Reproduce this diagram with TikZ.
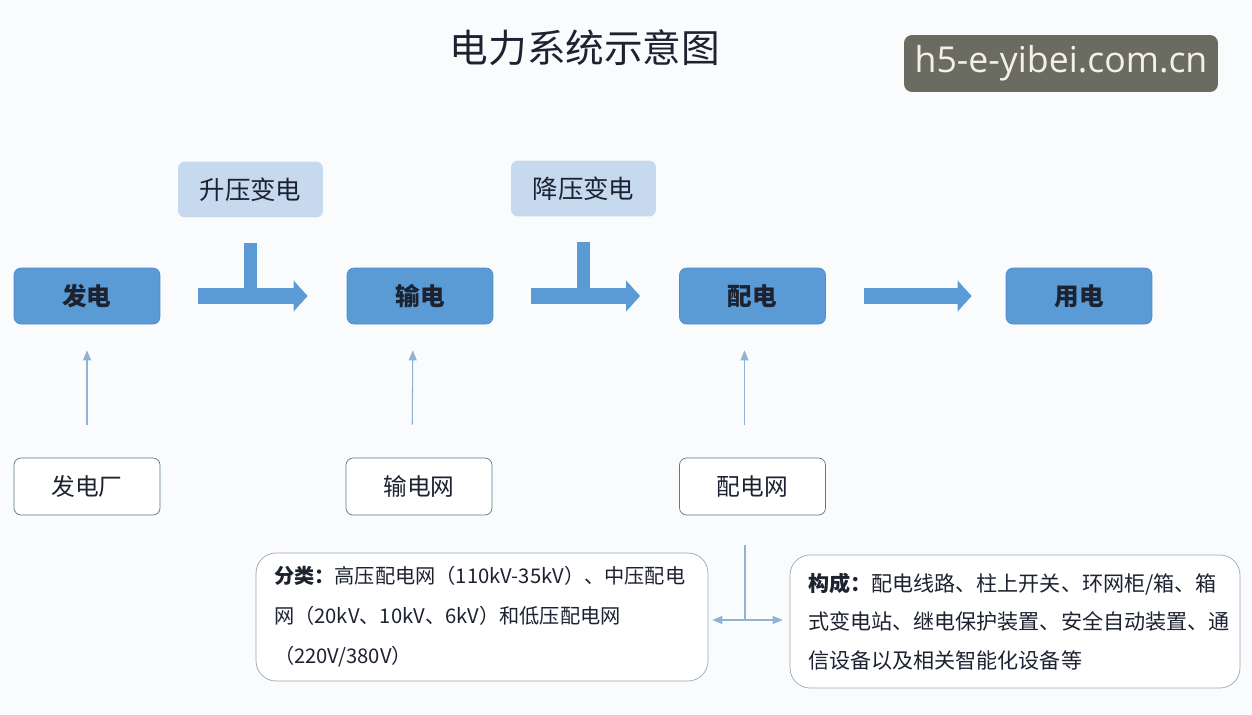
\documentclass[tikz,border=0pt]{standalone}
\usepackage{fontspec}
\newfontfamily\cjk{Noto Sans CJK SC}
\newfontfamily\wmfont{Open Sans}
\usetikzlibrary{arrows.meta}
\definecolor{bgcol}{HTML}{FAFBFD}
\definecolor{mainblue}{HTML}{5B9BD5}
\definecolor{mainedge}{HTML}{4F8CC9}
\definecolor{lightblue}{HTML}{C6D9EF}
\definecolor{thinblue}{HTML}{8FB2D6}
\definecolor{outedge}{HTML}{587A8A}
\definecolor{noteedge}{HTML}{9AA8B4}
\definecolor{wmgray}{HTML}{6A6B61}
\definecolor{wmtext}{HTML}{F6EEEA}
\definecolor{inkcol}{HTML}{1C2230}
\begin{document}
\begin{tikzpicture}[x=0.02cm,y=-0.02cm,
	font=\cjk, text=inkcol,
	mainbox/.style={draw=mainedge,fill=mainblue,rounded corners=0.14cm,minimum width=2.92cm,minimum height=1.12cm,font=\cjk\bfseries\fontsize{14}{16}\selectfont},
	stepup/.style={fill=lightblue,rounded corners=0.14cm,minimum width=2.9cm,minimum height=1.12cm,font=\cjk\fontsize{14.5}{16}\selectfont},
	sourcebox/.style={draw=outedge,fill=white,rounded corners=0.14cm,minimum width=2.92cm,minimum height=1.14cm,font=\cjk\fontsize{13.5}{16}\selectfont},
	notebox/.style={draw=noteedge,fill=white,rounded corners=0.4cm,inner xsep=0.36cm,align=left},
	bigarrow/.style={draw=mainblue,line width=0.32cm,-{Triangle[length=0.28cm,width=0.6cm]},shorten <=0.76cm,shorten >=0.78cm},
	stem/.style={draw=mainblue,line width=0.26cm},
	thinarrow/.style={draw=thinblue,line width=0.6pt,-{Triangle[length=0.2cm,width=0.16cm]},shorten <=0.66cm,shorten >=0.52cm}]

	\fill[bgcol] (0,0) rectangle (1252,714);
	\useasboundingbox (0,0) rectangle (1252,714);

	% title and mark
	\node (title) at (585,48) {\fontsize{22}{26}\selectfont 电力系统示意图};
	\node (mark)[fill=wmgray,rounded corners=0.16cm,minimum width=6.28cm,minimum height=1.14cm,text=wmtext,font=\wmfont\fontsize{20.3}{24}\selectfont] at (1061,63.5) {h5-e-yibei.com.cn};

	% main chain
	\node (fadian)[mainbox] at (87,296) {发电};
	\node (shudian)[mainbox] at (420,296) {输电};
	\node (peidian)[mainbox] at (752.5,296) {配电};
	\node (yongdian)[mainbox] at (1079,296) {用电};

	\node (shengya)[stepup] at (250.5,189.5) {升压变电};
	\node (jiangya)[stepup] at (583.5,188.5) {降压变电};

	\draw[stem] ([yshift=-0.5cm]shengya.south) -- (shengya.south |- fadian.center);
	\draw[stem] ([yshift=-0.5cm]jiangya.south) -- (jiangya.south |- shudian.center);
	\draw[bigarrow] (fadian) -- (shudian);
	\draw[bigarrow] (shudian) -- (peidian);
	\draw[bigarrow,shorten >=0.68cm] (peidian) -- (yongdian);

	% sources below
	\node (fadianchang)[sourcebox] at (87,486.5) {发电厂};
	\node (shudianwang)[sourcebox] at (419,486.5) {输电网};
	\node (peidianwang)[sourcebox] at (752.5,486.5) {配电网};

	\draw[thinarrow] (fadianchang) -- (fadian);
	\draw[thinarrow] ([xshift=-0.14cm]shudianwang.north) -- ([xshift=-0.14cm]shudian.south);
	\draw[thinarrow] ([xshift=-0.16cm]peidianwang.north) -- ([xshift=-0.16cm]peidian.south);

	% notes on the distribution grid
	\node (fenlei)[notebox,minimum width=9.04cm,minimum height=2.56cm,text width=8.32cm,font=\cjk\fontsize{11.5}{22.8}\selectfont] at (482,617)
		{\textbf{分类：}高压配电网（110kV-35kV）、中压配电\\网（20kV、10kV、6kV）和低压配电网\\（220V/380V）};
	\node (goucheng)[notebox,minimum width=9cm,minimum height=2.66cm,text width=8.28cm,font=\cjk\fontsize{12}{21.9}\selectfont] at (1015,621.5)
		{\textbf{构成：}配电线路、柱上开关、环网柜/箱、箱\\式变电站、继电保护装置、安全自动装置、通\\信设备以及相关智能化设备等};

	\coordinate (fork) at (745,620);
	\draw[thinblue,line width=0.6pt] ([yshift=-0.6cm]peidianwang.south -| fork) -- (fork);
	\draw[thinblue,line width=0.6pt,-{Triangle[length=0.2cm,width=0.16cm]},shorten >=0.08cm] (fork) -- (fork -| fenlei.east);
	\draw[thinblue,line width=0.6pt,-{Triangle[length=0.2cm,width=0.16cm]},shorten >=0.14cm] (fork) -- (fork -| goucheng.west);
\end{tikzpicture}
\end{document}
